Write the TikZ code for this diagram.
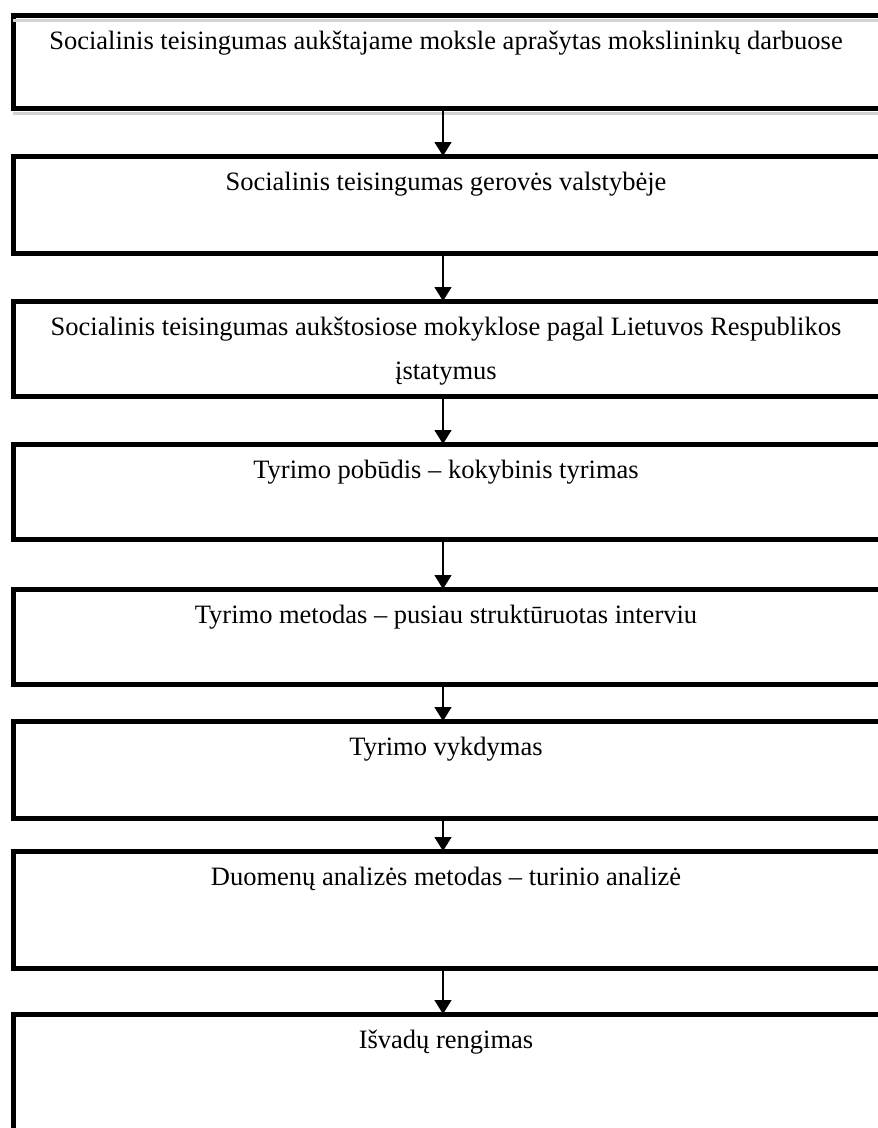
\documentclass[tikz,border=0pt]{standalone}
\usepackage{fontspec}
\setmainfont{Liberation Serif}
\usetikzlibrary{positioning}
\usetikzlibrary{arrows.meta}

\begin{document}
\begin{tikzpicture}[x=1pt, y=1pt,
	box/.style={rectangle, draw, line width=5pt, outer sep=0pt, minimum width=872pt},
	lbl/.style={anchor=base, xshift=-3pt, yshift=-34pt, align=center, font=\fontsize{26.5}{44}\selectfont},
	link/.style={line width=1.5pt, -{Triangle[width=17pt, length=14pt]}}]
	\path [use as bounding box, clip] (0,0) rectangle (878,-1128);
	\node [box, minimum height=93pt] (b1) at (449,-61.5) {};
	\node [box, minimum height=97pt, below=48pt of b1] (b2) {};
	\node [box, minimum height=95pt, below=48pt of b2] (b3) {};
	\node [box, minimum height=95pt, below=48pt of b3] (b4) {};
	\node [box, minimum height=95pt, below=50pt of b4] (b5) {};
	\node [box, minimum height=97pt, below=37pt of b5] (b6) {};
	\node [box, minimum height=117pt, below=33pt of b6] (b7) {};
	\node [box, minimum height=160pt, below=46pt of b7] (b8) {};
	\draw [gray!35, line width=3pt] ([yshift=-5pt]b1.north west) -- ([yshift=-5pt]b1.north east);
	\draw [gray!35, line width=3pt] ([yshift=-5pt]b1.south west) -- ([yshift=-5pt]b1.south east);
	\node [lbl] (t1) at (b1.north) {Socialinis teisingumas aukštajame moksle aprašytas mokslininkų darbuose};
	\node [lbl] (t2) at (b2.north) {Socialinis teisingumas gerovės valstybėje};
	\node [lbl, yshift=-44pt] (t3) at (b3.north) {Socialinis teisingumas aukštosiose mokyklose pagal Lietuvos Respublikos\\įstatymus};
	\node [lbl] (t4) at (b4.north) {Tyrimo pobūdis – kokybinis tyrimas};
	\node [lbl] (t5) at (b5.north) {Tyrimo metodas – pusiau struktūruotas interviu};
	\node [lbl] (t6) at (b6.north) {Tyrimo vykdymas};
	\node [lbl] (t7) at (b7.north) {Duomenų analizės metodas – turinio analizė};
	\node [lbl] (t8) at (b8.north) {Išvadų rengimas};
	\draw [link] ([xshift=-6pt]b1.south) -- ([xshift=-6pt]b2.north);
	\draw [link] ([xshift=-6pt]b2.south) -- ([xshift=-6pt]b3.north);
	\draw [link] ([xshift=-6pt]b3.south) -- ([xshift=-6pt]b4.north);
	\draw [link] ([xshift=-6pt]b4.south) -- ([xshift=-6pt]b5.north);
	\draw [link] ([xshift=-6pt]b5.south) -- ([xshift=-6pt]b6.north);
	\draw [link] ([xshift=-6pt]b6.south) -- ([xshift=-6pt]b7.north);
	\draw [link] ([xshift=-6pt]b7.south) -- ([xshift=-6pt]b8.north);
\end{tikzpicture}
\end{document}
